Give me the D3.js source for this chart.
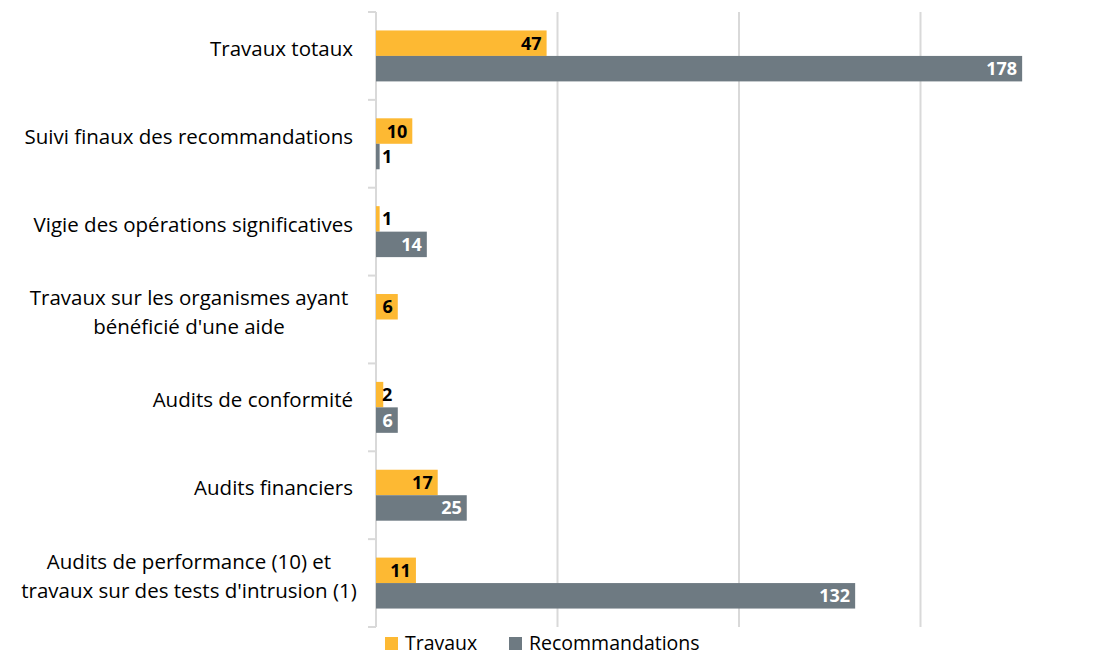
<!DOCTYPE html>
<html>
<head>
<meta charset="utf-8">
<script src="https://cdn.jsdelivr.net/npm/d3@7"></script>
<style>
  body { margin: 0; background: #fff; }
  svg { font-family: "Open Sans", "Noto Sans", sans-serif; }
</style>
</head>
<body>
<div id="chart"></div>
<script>
// categories top to bottom, each entry is the lines of the label
var categories = [
    ["Travaux totaux"],
    ["Suivi finaux des recommandations"],
    ["Vigie des opérations significatives"],
    ["Travaux sur les organismes ayant", "bénéficié d'une aide"],
    ["Audits de conformité"],
    ["Audits financiers"],
    ["Audits de performance (10) et", "travaux sur des tests d'intrusion (1)"]
];
var travaux = [47, 10, 1, 6, 2, 17, 11];
var recommandations = [178, 1, 14, null, 6, 25, 132];
var seriesNames = ["Travaux", "Recommandations"];
var colors = ["#FDB933", "#6E7A82"];
var xTicks = [0, 50, 100, 150, 200];

function chart() {
    var width = 1094,
        height = 656,
        left = 376,
        top = 12,
        bottom = 627;

    var svg = d3.select("#chart").append("svg")
        .attr("width", width)
        .attr("height", height);

    var x = d3.scaleLinear().domain([0, 200]).range([left, left + 726]);

    var y = d3.scaleBand()
        .domain(d3.range(categories.length))
        .range([top, bottom])
        .paddingInner(0.42)
        .paddingOuter(0.21);

    var ySub = d3.scaleBand()
        .domain(seriesNames)
        .range([0, y.bandwidth()]);

    // gridlines
    svg.append("g")
        .selectAll("line")
        .data(xTicks.filter(function (d) { return d > 0; }))
        .enter()
        .append("line")
        .attr("x1", function (d) { return x(d); })
        .attr("x2", function (d) { return x(d); })
        .attr("y1", top)
        .attr("y2", bottom)
        .style("stroke", "#d9d9d9")
        .style("stroke-width", 2);

    // category axis with ticks at band boundaries
    var step = y.step();
    var bounds = d3.range(categories.length + 1).map(function (i) {
        return top + i * step;
    });
    svg.append("line")
        .attr("x1", left).attr("x2", left)
        .attr("y1", top).attr("y2", bottom)
        .style("stroke", "#d9d9d9")
        .style("stroke-width", 2);
    svg.append("g")
        .selectAll("line")
        .data(bounds)
        .enter()
        .append("line")
        .attr("x1", left - 8).attr("x2", left)
        .attr("y1", function (d) { return d; })
        .attr("y2", function (d) { return d; })
        .style("stroke", "#d9d9d9")
        .style("stroke-width", 2);

    // category labels
    var labels = svg.append("g")
        .selectAll("text")
        .data(categories)
        .enter()
        .append("text")
        .attr("y", function (d, i) {
            return y(i) + y.bandwidth() / 2 - (d.length - 1) * 14.5;
        })
        .attr("dy", "0.35em")
        .style("font-size", "20.5px")
        .style("fill", "#000")
        .attr("text-anchor", function (d) { return d.length > 1 ? "middle" : "end"; })
        .attr("x", function (d) { return d.length > 1 ? 189 : 353; });

    labels.selectAll("tspan")
        .data(function (d) { return d; })
        .enter()
        .append("tspan")
        .attr("x", function () { return d3.select(this.parentNode).attr("x"); })
        .attr("dy", function (d, i) { return i == 0 ? 0 : 29; })
        .text(function (d) { return d; });

    // bars
    var rows = categories.map(function (c, i) {
        return [
            { s: seriesNames[0], v: travaux[i], i: i, k: 0 },
            { s: seriesNames[1], v: recommandations[i], i: i, k: 1 }
        ].filter(function (d) { return d.v != null; });
    });
    var all = d3.merge(rows);

    var bars = svg.append("g")
        .selectAll("g")
        .data(all)
        .enter()
        .append("g")
        .attr("transform", function (d) {
            return "translate(0," + (y(d.i) + ySub(d.s)) + ")";
        });

    bars.append("rect")
        .attr("x", x(0))
        .attr("width", function (d) { return x(d.v) - x(0); })
        .attr("height", ySub.bandwidth())
        .style("fill", function (d) { return colors[d.k]; });

    // value labels: inside end, pushed right when the bar is too short
    bars.append("text")
        .text(function (d) { return d.v; })
        .attr("y", ySub.bandwidth() / 2)
        .attr("dy", "0.36em")
        .attr("text-anchor", "end")
        .style("font-size", "18px")
        .style("font-weight", "bold")
        .each(function (d) {
            var t = d3.select(this);
            var w = this.getComputedTextLength();
            var inside = x(d.v) - 5;
            var minX = x(0) + 6 + w;
            var fits = inside >= minX;
            t.attr("x", fits ? inside : minX);
            t.style("fill", d.k == 1 && fits ? "#fff" : "#000");
        });

    // legend
    var legend = svg.append("g")
        .selectAll("g")
        .data(seriesNames)
        .enter()
        .append("g")
        .attr("transform", function (d, i) {
            return "translate(" + (i == 0 ? 385 : 509) + ",637)";
        });
    legend.append("rect")
        .attr("width", 13)
        .attr("height", 13)
        .style("fill", function (d, i) { return colors[i]; });
    legend.append("text")
        .attr("x", 20)
        .attr("y", 6.5)
        .attr("dy", "0.35em")
        .style("font-size", "19.5px")
        .text(function (d) { return d; });
}

chart();
</script>
</body>
</html>
